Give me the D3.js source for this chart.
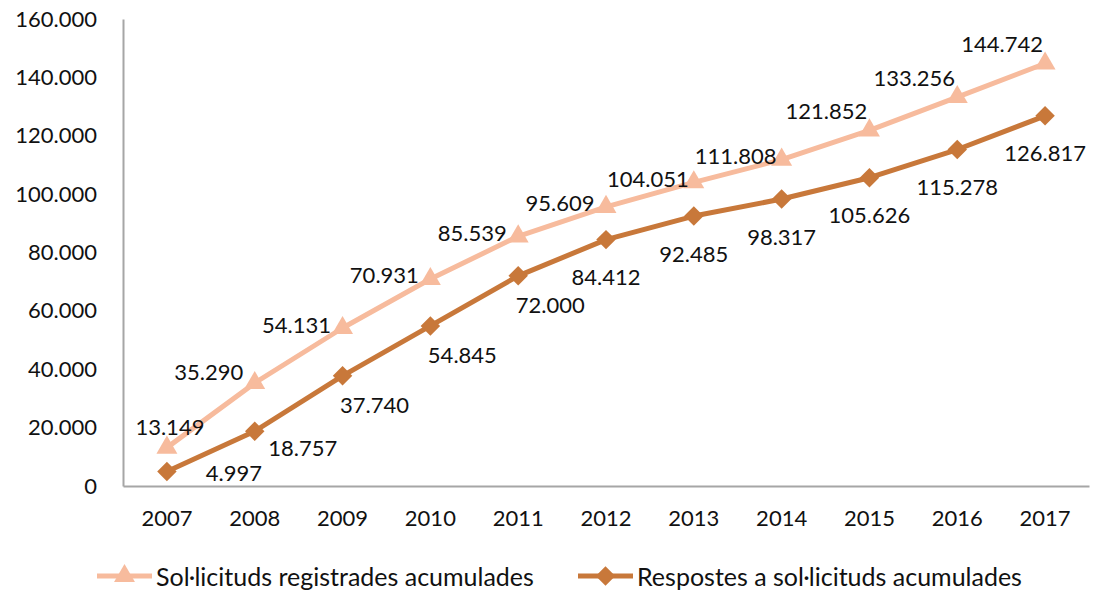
<!DOCTYPE html>
<html>
<head>
<meta charset="utf-8">
<script src="https://cdn.jsdelivr.net/npm/d3@7"></script>
<style>
  html,body{margin:0;padding:0;background:#fff;}
  svg text{font-family:Lato,"Open Sans",sans-serif;fill:#111;}
</style>
</head>
<body>
<div id="chart"></div>
<script>
const anys = ['2007','2008','2009','2010','2011','2012','2013','2014','2015','2016','2017'];
const registrades = [13149,35290,54131,70931,85539,95609,104051,111808,121852,133256,144742];
const respostes = [4997,18757,37740,54845,72000,84412,92485,98317,105626,115278,126817];
const yTicks = [0,20000,40000,60000,80000,100000,120000,140000,160000];
const nomRegistrades = 'Sol·licituds registrades acumulades';
const nomRespostes = 'Respostes a sol·licituds acumulades';

const W=1094,H=590;
const m={t:19,r:5,b:104,l:123}, iw=W-m.l-m.r, ih=H-m.t-m.b;
const loc=d3.formatLocale({decimal:',',thousands:'.',grouping:[3],currency:['','€']});
const fmt=loc.format(',d');
const cClar='#F7BB9D', cFosc='#C8783A', cEix='#A6A6A6';
const fs=22;

const svg=d3.select('#chart').append('svg').attr('width',W).attr('height',H);
const g=svg.append('g').attr('transform',`translate(${m.l},${m.t})`);

const x=d3.scaleBand().domain(anys).range([0,iw]).padding(0);
const y=d3.scaleLinear().domain([0,160000]).range([ih,0]);
const cx=d=>x(d)+x.bandwidth()/2;

// eixos
const ax=g.append('g').attr('transform',`translate(0,${ih})`)
  .call(d3.axisBottom(x).tickSize(0).tickPadding(24));
ax.select('.domain').attr('stroke',cEix).attr('stroke-width',2);
ax.selectAll('text').style('font-size',fs+'px').attr('fill','#111');

const ay=g.append('g').call(d3.axisLeft(y).tickValues(yTicks).tickSize(0).tickPadding(26).tickFormat(fmt));
ay.select('.domain').attr('stroke',cEix).attr('stroke-width',2);
ay.selectAll('text').style('font-size',fs+'px').attr('fill','#111');

const line=d3.line().x((d,i)=>cx(anys[i])).y(d=>y(d));
const tri=d3.symbol().type(d3.symbolTriangle).size(190);
const dia=d3.symbol().type(d3.symbolSquare).size(190);
const rot={[tri()]:0,[dia()]:45};

function serie(vals,color,sym,lbl){
  g.append('path').attr('d',line(vals)).attr('fill','none').attr('stroke',color).attr('stroke-width',5).attr('stroke-linejoin','round');
  g.append('g').selectAll('path').data(vals).join('path')
    .attr('d',sym).attr('fill',color)
    .attr('transform',(d,i)=>`translate(${cx(anys[i])},${y(d)}) rotate(${rot[sym()]})`);
  g.append('g').selectAll('text').data(vals).join('text')
    .attr('x',(d,i)=>cx(anys[i])+lbl(i)[0])
    .attr('y',(d,i)=>y(d)+lbl(i)[1])
    .attr('text-anchor','middle').attr('dominant-baseline','central')
    .style('font-size',fs+'px').text(fmt);
}
// col·locació d'etiquetes: registrades a l'esquerra/dalt, respostes a la dreta/baix
serie(registrades,cClar,tri,i=> i===0?[3,-21]: i>=8?[-43,-20]: i===1?[-46,-11]:[-46,-4]);
serie(respostes,cFosc,dia,i=> i===0?[67,1]: i===1?[48,16]: i<=4?[32,29]: [0,37]);

// llegenda
const lg=svg.append('g').attr('transform',`translate(0,576)`);
[[nomRegistrades,cClar,tri,97],[nomRespostes,cFosc,dia,578]].forEach(([t,c,s,x0])=>{
  lg.append('line').attr('x1',x0).attr('x2',x0+55).attr('stroke',c).attr('stroke-width',5);
  lg.append('path').attr('d',s).attr('fill',c).attr('transform',`translate(${x0+27.5},0) rotate(${rot[s()]})`);
  lg.append('text').attr('x',x0+59).attr('dominant-baseline','central').style('font-size','25px').text(t);
});
</script>
</body>
</html>
